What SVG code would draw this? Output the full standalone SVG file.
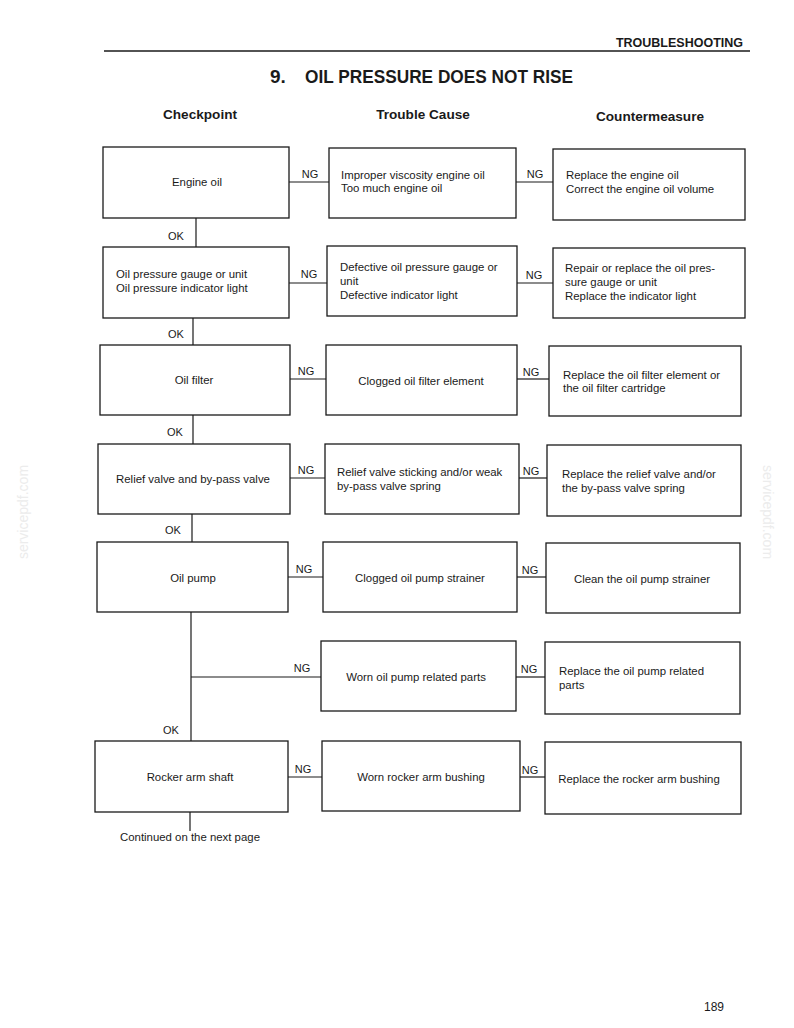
<svg xmlns="http://www.w3.org/2000/svg" width="794" height="1028" viewBox="0 0 794 1028">
<style>
.box{fill:#fff;stroke:#1a1a1a;stroke-width:1.3}
.ln{stroke:#1a1a1a;stroke-width:1.2;fill:none}
text{font-family:"Liberation Sans",Arial,sans-serif;fill:#1a1a1a}
.t{font-size:11.4px}
.c{text-anchor:middle}
.lbl{font-size:11px}
.hd{font-size:13.6px;font-weight:bold;text-anchor:middle}
.wm{font-size:14px;fill:#ececec;text-anchor:middle}
</style>
<rect width="794" height="1028" fill="#fff"/>
<text x="743" y="47" style="font-size:12.5px;font-weight:bold" text-anchor="end">TROUBLESHOOTING</text>
<line x1="104" y1="51" x2="750" y2="51" stroke="#1a1a1a" stroke-width="1.6"/>
<text x="270" y="83" style="font-size:19px;font-weight:bold">9.</text>
<text x="305" y="83" style="font-size:19px;font-weight:bold" textLength="268" lengthAdjust="spacingAndGlyphs">OIL PRESSURE DOES NOT RISE</text>
<text x="200" y="119" class="hd">Checkpoint</text>
<text x="423" y="119" class="hd">Trouble Cause</text>
<text x="650" y="121" class="hd">Countermeasure</text>
<text x="28" y="512" class="wm" transform="rotate(-90 28 512)">servicepdf.com</text>
<text x="763" y="512" class="wm" transform="rotate(90 763 512)">servicepdf.com</text>

<g id="connectors">
<line class="ln" x1="289" y1="182" x2="329" y2="182"/><line class="ln" x1="516" y1="182" x2="553" y2="182"/>
<line class="ln" x1="196" y1="218" x2="196" y2="247"/>
<line class="ln" x1="289" y1="283" x2="327" y2="283"/><line class="ln" x1="517" y1="283" x2="553" y2="283"/>
<line class="ln" x1="193" y1="318" x2="193" y2="345"/>
<line class="ln" x1="290" y1="379" x2="326" y2="379"/><line class="ln" x1="517" y1="379" x2="549" y2="379"/>
<line class="ln" x1="193" y1="415" x2="193" y2="444"/>
<line class="ln" x1="290" y1="478" x2="325" y2="478"/><line class="ln" x1="519" y1="478" x2="547" y2="478"/>
<line class="ln" x1="192" y1="514" x2="192" y2="542"/>
<line class="ln" x1="288" y1="577" x2="323" y2="577"/><line class="ln" x1="517" y1="577" x2="546" y2="577"/>
<line class="ln" x1="191" y1="612" x2="191" y2="741"/>
<line class="ln" x1="191" y1="677" x2="321" y2="677"/><line class="ln" x1="516" y1="677" x2="545" y2="677"/>
<line class="ln" x1="288" y1="777" x2="322" y2="777"/><line class="ln" x1="520" y1="777" x2="545" y2="777"/>
<line class="ln" x1="190" y1="812" x2="190" y2="831"/>
<text x="310" y="178" class="lbl c">NG</text><text x="535" y="178" class="lbl c">NG</text>
<text x="176" y="240" class="lbl c">OK</text>
<text x="309" y="278" class="lbl c">NG</text><text x="534" y="279" class="lbl c">NG</text>
<text x="176" y="338" class="lbl c">OK</text>
<text x="306" y="375" class="lbl c">NG</text><text x="531" y="376" class="lbl c">NG</text>
<text x="175" y="436" class="lbl c">OK</text>
<text x="306" y="474" class="lbl c">NG</text><text x="531" y="475" class="lbl c">NG</text>
<text x="173" y="534" class="lbl c">OK</text>
<text x="304" y="573" class="lbl c">NG</text><text x="530" y="574" class="lbl c">NG</text>
<text x="302" y="672" class="lbl c">NG</text><text x="529" y="673" class="lbl c">NG</text>
<text x="171" y="734" class="lbl c">OK</text>
<text x="303" y="773" class="lbl c">NG</text><text x="530" y="774" class="lbl c">NG</text>
<text x="120" y="841" class="t">Continued on the next page</text>
</g>

<g id="cp1"><rect class="box" x="103" y="147" width="186" height="71"/><text x="197" y="186" class="t c">Engine oil</text></g>
<g id="tc1"><rect class="box" x="329" y="148" width="187" height="70"/><text x="341" y="179" class="t">Improper viscosity engine oil</text><text x="341" y="192" class="t">Too much engine oil</text></g>
<g id="cm1"><rect class="box" x="553" y="149" width="192" height="71"/><text x="566" y="179" class="t">Replace the engine oil</text><text x="566" y="193" class="t">Correct the engine oil volume</text></g>

<g id="cp2"><rect class="box" x="103" y="247" width="186" height="71"/><text x="116" y="278" class="t">Oil pressure gauge or unit</text><text x="116" y="292" class="t">Oil pressure indicator light</text></g>
<g id="tc2"><rect class="box" x="327" y="246" width="190" height="70"/><text x="340" y="271" class="t">Defective oil pressure gauge or</text><text x="340" y="285" class="t">unit</text><text x="340" y="299" class="t">Defective indicator light</text></g>
<g id="cm2"><rect class="box" x="553" y="248" width="192" height="70"/><text x="565" y="272" class="t">Repair or replace the oil pres-</text><text x="565" y="286" class="t">sure gauge or unit</text><text x="565" y="300" class="t">Replace the indicator light</text></g>

<g id="cp3"><rect class="box" x="100" y="345" width="190" height="70"/><text x="194" y="384" class="t c">Oil filter</text></g>
<g id="tc3"><rect class="box" x="326" y="345" width="191" height="70"/><text x="421" y="385" class="t c">Clogged oil filter element</text></g>
<g id="cm3"><rect class="box" x="549" y="346" width="192" height="70"/><text x="563" y="379" class="t">Replace the oil filter element or</text><text x="563" y="392" class="t">the oil filter cartridge</text></g>

<g id="cp4"><rect class="box" x="98" y="444" width="192" height="70"/><text x="193" y="483" class="t c">Relief valve and by-pass valve</text></g>
<g id="tc4"><rect class="box" x="325" y="444" width="194" height="70"/><text x="337" y="476" class="t">Relief valve sticking and/or weak</text><text x="337" y="490" class="t">by-pass valve spring</text></g>
<g id="cm4"><rect class="box" x="547" y="445" width="194" height="71"/><text x="562" y="478" class="t">Replace the relief valve and/or</text><text x="562" y="492" class="t">the by-pass valve spring</text></g>

<g id="cp5"><rect class="box" x="97" y="542" width="191" height="70"/><text x="193" y="582" class="t c">Oil pump</text></g>
<g id="tc5"><rect class="box" x="323" y="542" width="194" height="70"/><text x="420" y="582" class="t c">Clogged oil pump strainer</text></g>
<g id="cm5"><rect class="box" x="546" y="543" width="194" height="70"/><text x="642" y="583" class="t c">Clean the oil pump strainer</text></g>

<g id="tc6"><rect class="box" x="321" y="641" width="195" height="70"/><text x="416" y="681" class="t c">Worn oil pump related parts</text></g>
<g id="cm6"><rect class="box" x="545" y="642" width="195" height="72"/><text x="559" y="675" class="t">Replace the oil pump related</text><text x="559" y="689" class="t">parts</text></g>

<g id="cp7"><rect class="box" x="95" y="741" width="193" height="71"/><text x="190" y="781" class="t c">Rocker arm shaft</text></g>
<g id="tc7"><rect class="box" x="322" y="741" width="198" height="70"/><text x="421" y="781" class="t c">Worn rocker arm bushing</text></g>
<g id="cm7"><rect class="box" x="545" y="742" width="196" height="72"/><text x="639" y="783" class="t c">Replace the rocker arm bushing</text></g>

<text x="724" y="1011" style="font-size:12px" text-anchor="end">189</text>
</svg>
